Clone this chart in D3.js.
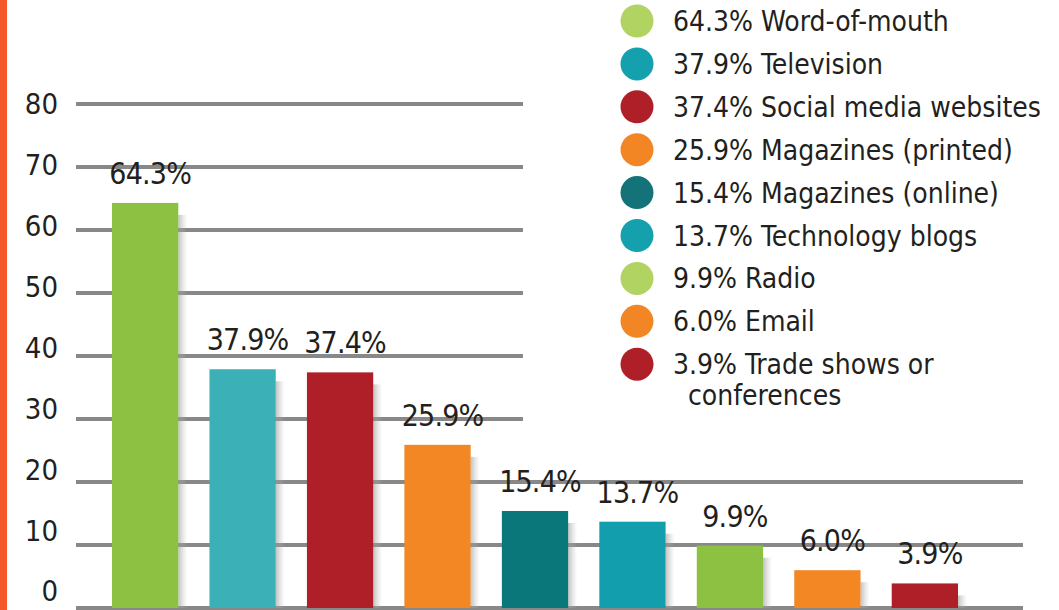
<!DOCTYPE html>
<html>
<head>
<meta charset="utf-8">
<script src="https://cdn.jsdelivr.net/npm/d3@7"></script>
<style>
  body { margin: 0; background: #fff; }
  svg { display: block; }
  text { font-family: "DejaVu Sans Condensed", "DejaVu Sans", sans-serif; font-stretch: condensed; fill: #231f20; }
</style>
</head>
<body>
<div id="chart"></div>
<script>
// chart data
const categories = ["Word-of-mouth", "Television", "Social media websites", "Magazines (printed)",
  "Magazines (online)", "Technology blogs", "Radio", "Email", "Trade shows or\nconferences"];
const values = [64.3, 37.9, 37.4, 25.9, 15.4, 13.7, 9.9, 6.0, 3.9];
const yTicks = [0, 10, 20, 30, 40, 50, 60, 70, 80];

// colours
const barColors = ["#8dc142", "#3cb0b7", "#ae1f27", "#f28724", "#0a787a", "#129ead", "#8dc142", "#f28724", "#ae1f27"];
const legendColors = ["#b1d362", "#14a0ad", "#ae1f27", "#f38624", "#147379", "#14a0ad", "#b1d362", "#f38624", "#ae1f27"];

const width = 1059, height = 610;

const svg = d3.select("#chart").append("svg")
  .attr("width", width)
  .attr("height", height);

// left accent strip
svg.append("rect").attr("x", 0).attr("y", 0).attr("width", 7).attr("height", height).attr("fill", "#f4572a");

const y = d3.scaleLinear().domain([0, 80]).range([608, 104]);
// tick labels sit on a slightly tighter spacing than the lines
const yLabel = d3.scaleLinear().domain([0, 80]).range([591, 104]);
const x = d3.scaleBand().domain(categories).range([112, 958]).paddingInner(0.32);

// shadow gradient
const defs = svg.append("defs");
const grad = defs.append("linearGradient").attr("id", "shade");
grad.append("stop").attr("offset", "0%").attr("stop-color", "#999").attr("stop-opacity", 0.6);
grad.append("stop").attr("offset", "100%").attr("stop-color", "#bbb").attr("stop-opacity", 0);

// gridlines + y labels
svg.append("g").selectAll("line")
  .data(yTicks)
  .join("line")
  .attr("x1", 76)
  .attr("x2", d => d >= 30 ? 523 : 1023)
  .attr("y1", d => y(d))
  .attr("y2", d => y(d))
  .attr("stroke", "#888")
  .attr("stroke-width", 4);

svg.append("g").selectAll("text")
  .data(yTicks)
  .join("text")
  .attr("x", 58)
  .attr("y", d => yLabel(d))
  .attr("dy", "0.36em")
  .attr("text-anchor", "end")
  .attr("font-size", 29)
  .text(d => d);

const data = categories.map((c, i) => ({ c, v: values[i], i }));

// bar shadows
svg.append("g").selectAll("rect")
  .data(data)
  .join("rect")
  .attr("x", d => x(d.c) + x.bandwidth())
  .attr("y", d => y(d.v) + 12)
  .attr("width", 9)
  .attr("height", d => y(0) - y(d.v) - 12)
  .attr("fill", "url(#shade)");

// bars
svg.append("g").selectAll("rect")
  .data(data)
  .join("rect")
  .attr("x", d => x(d.c))
  .attr("y", d => y(d.v))
  .attr("width", x.bandwidth())
  .attr("height", d => y(0) - y(d.v))
  .attr("fill", d => barColors[d.i]);

// value labels
svg.append("g").selectAll("text")
  .data(data)
  .join("text")
  .attr("x", d => x(d.c) + x.bandwidth() / 2 + 5)
  .attr("y", d => y(d.v) - 19)
  .attr("text-anchor", "middle")
  .attr("font-size", 30)
  .attr("letter-spacing", -0.8)
  .text(d => d.v.toFixed(1) + "%");

// legend
const legend = svg.append("g").attr("transform", "translate(637,21)");
const rows = legend.selectAll("g")
  .data(data)
  .join("g")
  .attr("transform", d => `translate(0,${d.i * 42.9})`);

rows.append("circle")
  .attr("r", 16.5)
  .attr("fill", d => legendColors[d.i]);

rows.append("text")
  .attr("x", 36)
  .attr("y", 10)
  .attr("font-size", 28)
  .each(function (d) {
    const lines = d.c.split("\n");
    const t = d3.select(this);
    t.append("tspan").text(d.v.toFixed(1) + "% " + lines[0]);
    lines.slice(1).forEach(l => {
      t.append("tspan").attr("x", 51).attr("dy", 31).text(l);
    });
  });
</script>
</body>
</html>
